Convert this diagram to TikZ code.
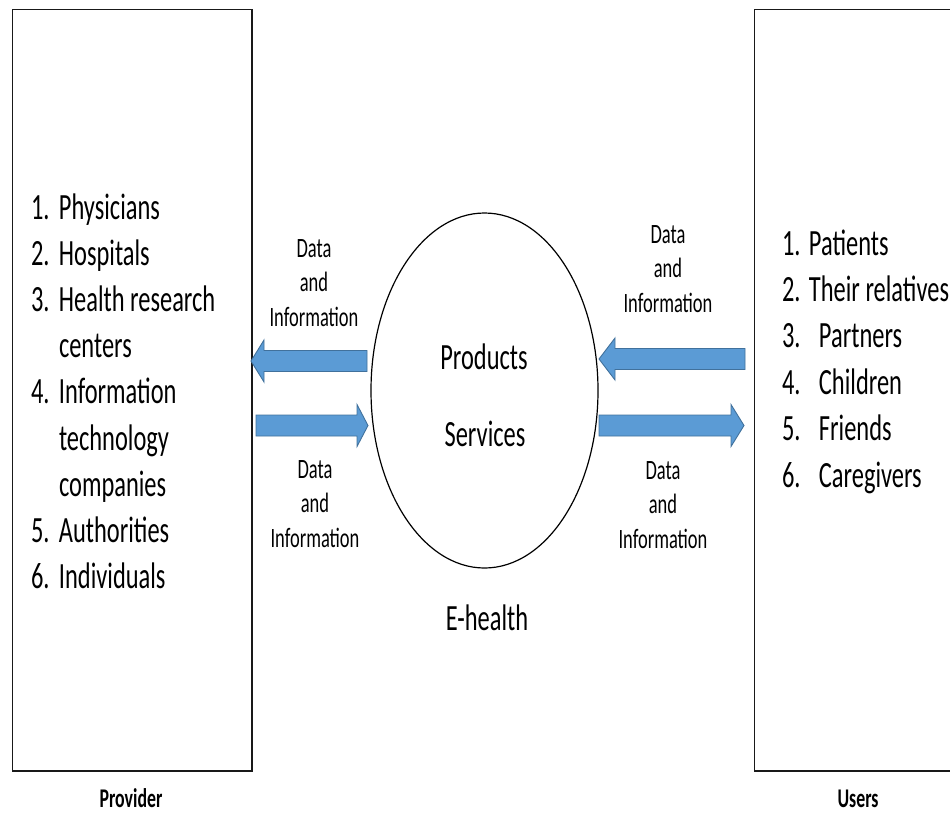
\documentclass[tikz,border=0pt]{standalone}
\usepackage{fontspec}
\setmainfont{Carlito}[FakeStretch=0.66]
\usepackage{array}

\tikzset{
  panel/.style={draw=black!90, line width=1.3pt},
  hub/.style={draw=black, line width=1.2pt, ellipse, minimum width=227pt, minimum height=355pt, inner sep=0pt},
  txt/.style={inner sep=0pt, outer sep=0pt, anchor=base, text=black},
  arrowbody/.style={fill=arrowblue, draw=arrowedge, line width=0.9pt, line join=miter},
}
\definecolor{arrowblue}{HTML}{5B9BD5}
\definecolor{arrowedge}{HTML}{41719C}
\usetikzlibrary{shapes.geometric}

% block arrow: tail x, head-base x, tip x, centre y
\newcommand\blockarrow[4]{%
  \path[arrowbody] (#1,#4-10.5) -- (#2,#4-10.5) -- (#2,#4-21) -- (#3,#4)
    -- (#2,#4+21) -- (#2,#4+10.5) -- (#1,#4+10.5) -- cycle;}

\newcommand\listfont{\fontsize{37}{46.2}\selectfont}
\newcommand\smallfont{\fontsize{28}{34.8}\selectfont}
\newcommand\dataLabel{\begin{tabular}[t]{@{}c@{}}Data\\and\\Information\end{tabular}}

\begin{document}
\begin{tikzpicture}[x=1pt,y=-1pt]
  \useasboundingbox (0,0) rectangle (950,812);
  \clip (0,0) rectangle (950,812);

  % side panels
  \draw[panel] (12.7,9.3) rectangle (252,771);
  \draw[panel] (754.5,9.3) rectangle (980,771);
  \coordinate (provider) at (132,771);
  \coordinate (users) at (867,771);

  % left list
  \node[txt, anchor=base west] (provlist) at (31,219) {\listfont
    \begin{tabular}[t]{@{}p{28pt}@{}l@{}}
      1. & Physicians\\
      2. & Hospitals\\
      3. & Health research\\
         & centers\\
      4. & Information\\
         & technology\\
         & companies\\
      5. & Authorities\\
      6. & Individuals
    \end{tabular}};

  % right list
  \node[txt, anchor=base west] (userlist) at (782,255) {\fontsize{37}{46.4}\selectfont
    \begin{tabular}[t]{@{}p{27pt}@{}l@{}}
      1. & Patients\\
      2. & Their relatives\\
      3. & \hspace{10pt}Partners\\
      4. & \hspace{10pt}Children\\
      5. & \hspace{10pt}Friends\\
      6. & \hspace{10pt}Caregivers
    \end{tabular}};

  % central e-health ellipse
  \node[hub] (ehealth) at (484.5,390.5) {};
  \node[txt] (products) at (484,369) {\listfont Products};
  \node[txt] (services) at (485,446) {\listfont Services};
  \node[txt] (ehlabel) at (487,630) {\listfont E-health};

  % data flows
  \blockarrow{367}{264}{251}{361}
  \blockarrow{256}{357}{368}{425.5}
  \blockarrow{745}{615}{599}{359}
  \blockarrow{599}{731}{744}{425.5}

  \node[txt] (flow1) at (314,257) {\smallfont\dataLabel};
  \node[txt] (flow2) at (315,478) {\smallfont\dataLabel};
  \node[txt] (flow3) at (668,243) {\smallfont\dataLabel};
  \node[txt] (flow4) at (663,479) {\smallfont\dataLabel};

  % panel captions
  \node[txt] (provcap) at (131,807) {\fontsize{27}{32}\selectfont\bfseries Provider};
  \node[txt] (usercap) at (858,807) {\fontsize{27}{32}\selectfont\bfseries Users};
\end{tikzpicture}
\end{document}
